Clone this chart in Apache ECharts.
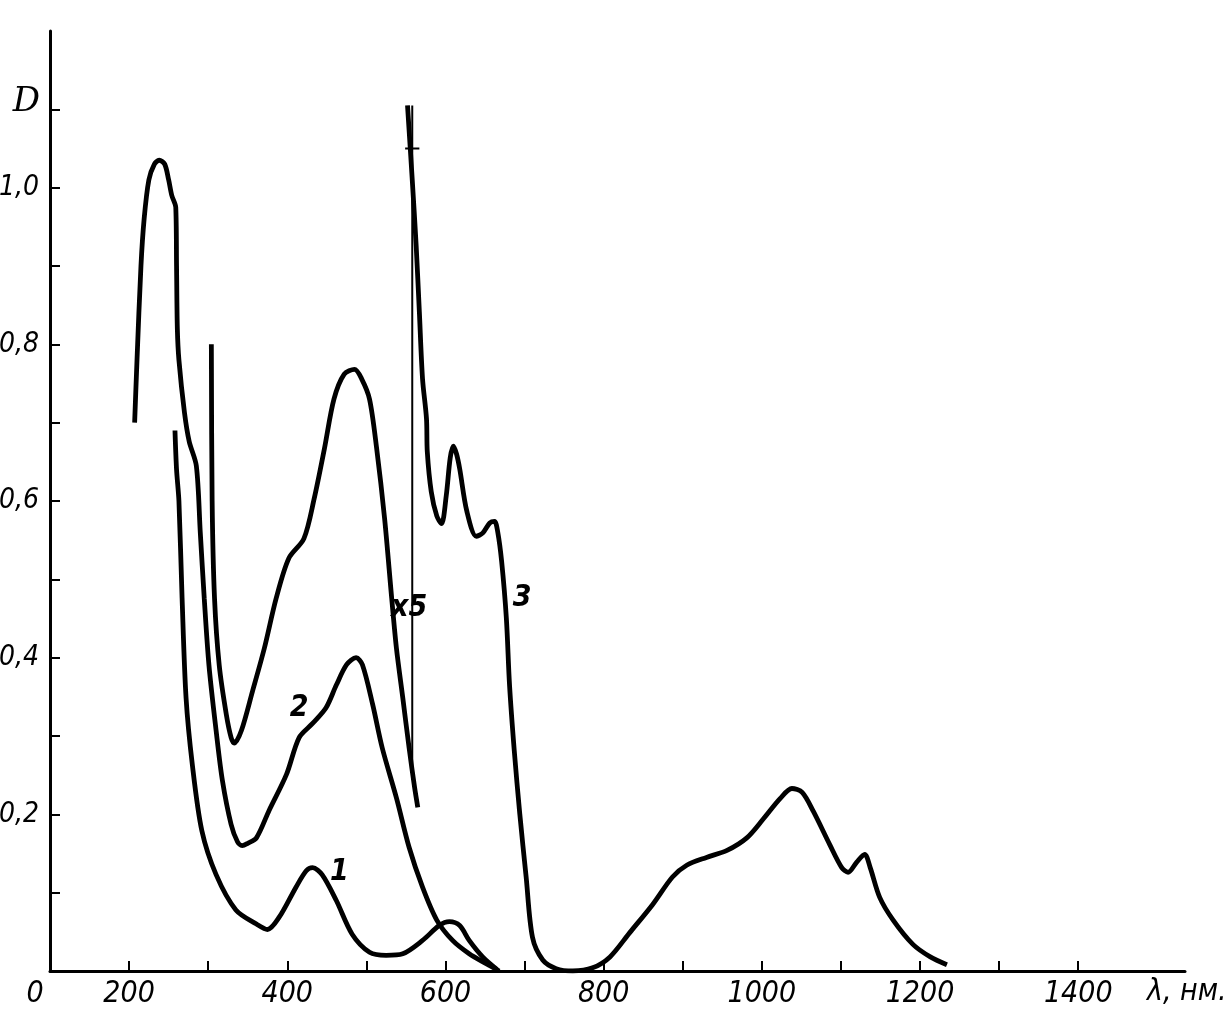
<!DOCTYPE html>
<html>
<head>
<meta charset="utf-8">
<script src="https://cdn.jsdelivr.net/npm/echarts@6/dist/echarts.min.js"></script>
<style>
html,body{margin:0;padding:0;background:#fff;}
#chart{width:1228px;height:1024px;}
</style>
</head>
<body>
<div id="chart"></div>
<script>
// wavelength (nm), optical density D
const curve1 = [[258,0.69],[260,0.64],[263,0.60],[267,0.476],[272,0.349],[280,0.263],[292,0.179],[310,0.123],[335,0.078],[361,0.060],[375,0.053],[390,0.069],[411,0.107],[424,0.128],[432,0.132],[444,0.123],[462,0.090],[482,0.047],[504,0.024],[525,0.020],[546,0.022],[571,0.039],[592,0.058],[605,0.063],[618,0.058],[630,0.039],[647,0.018],[665,0.002]];
const curve2 = [[207,0.70],[210,0.78],[215,0.90],[219,0.96],[225,1.01],[232,1.03],[238,1.035],[245,1.03],[250,1.01],[254,0.99],[259,0.975],[260,0.90],[261,0.82],[263,0.78],[270,0.713],[276,0.676],[285,0.645],[290,0.56],[295,0.476],[301,0.39],[310,0.307],[318,0.243],[329,0.187],[337,0.165],[343,0.160],[350,0.163],[361,0.170],[377,0.205],[399,0.251],[415,0.298],[432,0.316],[449,0.336],[462,0.365],[475,0.391],[487,0.40],[495,0.391],[508,0.34],[520,0.285],[538,0.221],[554,0.158],[571,0.107],[589,0.065],[609,0.039],[630,0.022],[652,0.009],[668,0.0]];
const curve2x5 = [[304,0.80],[305,0.60],[308,0.476],[314,0.39],[323,0.327],[329,0.298],[333,0.291],[342,0.307],[356,0.357],[371,0.412],[386,0.476],[402,0.527],[421,0.552],[434,0.603],[447,0.667],[459,0.730],[472,0.762],[485,0.768],[494,0.756],[504,0.730],[513,0.667],[523,0.578],[532,0.476],[538,0.412],[546,0.349],[554,0.285],[561,0.234],[565,0.209]];
const curve3 = [[552,1.105],[558,1.01],[563,0.925],[567,0.841],[571,0.756],[576,0.705],[577,0.663],[582,0.612],[589,0.581],[595,0.571],[601,0.607],[606,0.655],[610,0.670],[614,0.660],[618,0.641],[627,0.587],[639,0.555],[647,0.559],[656,0.572],[662,0.574],[666,0.561],[671,0.523],[677,0.450],[681,0.365],[687,0.281],[694,0.20],[702,0.12],[710,0.043],[723,0.014],[740,0.003],[761,0.0],[786,0.004],[808,0.018],[833,0.049],[862,0.085],[887,0.12],[905,0.135],[930,0.145],[956,0.154],[981,0.17],[1001,0.193],[1023,0.22],[1038,0.233],[1051,0.228],[1065,0.204],[1086,0.161],[1101,0.132],[1109,0.126],[1120,0.139],[1130,0.149],[1137,0.132],[1149,0.094],[1166,0.065],[1191,0.034],[1213,0.018],[1234,0.008]];
const markerLine = [[558,1.105],[558,0.26]];
const markerBar = [[549,1.05],[567,1.05]];
const annotations = [[466,0.126,'1'],[415,0.336,'2'],[697,0.476,'3'],[554,0.463,'x5']];
const xTicks = [200,300,400,500,600,700,800,900,1000,1100,1200,1300,1400];
const xLabels = [100,200,400,600,800,1000,1200,1400];
const yTicks = [0.1,0.2,0.3,0.4,0.5,0.6,0.7,0.8,0.9,1.0,1.1];
const yLabels = [0.2,0.4,0.6,0.8,1.0];

const FONT = '"Liberation Sans Narrow","DejaVu Sans Condensed","Liberation Sans",sans-serif';
const chart = echarts.init(document.getElementById('chart'));
const curveStyle = {color:'#000', width:4.8};
function curve(data){
  return {type:'line', data:data, showSymbol:false, symbol:'none', smooth:0.3,
    lineStyle:curveStyle, silent:true, z:3};
}
chart.setOption({
  animation:false,
  backgroundColor:'#fff',
  grid:{left:50, right:43, top:31, bottom:53, containLabel:false, outerBoundsMode:'none'},
  xAxis:{
    type:'value', min:100, max:1535,
    splitLine:{show:false},
    axisLine:{lineStyle:{color:'#000', width:3}},
    axisTick:{inside:true, length:10, lineStyle:{color:'#000', width:2}, customValues:xTicks},
    axisLabel:{
      customValues:xLabels,
      margin:8,
      color:'#000', fontSize:30, fontStyle:'italic', fontFamily:FONT,
      formatter:function(v){ return v===100 ? '{o|0}' : String(v); },
      rich:{o:{padding:[0,30,0,0], color:'#000', fontSize:30, fontStyle:'italic', fontFamily:FONT}}
    },
    name:'λ, нм.',
    nameLocation:'end',
    nameGap:-38,
    nameTextStyle:{color:'#000', fontSize:30, fontStyle:'italic', fontFamily:FONT, verticalAlign:'top', padding:[6,0,0,0]}
  },
  yAxis:{
    type:'value', min:0, max:1.2,
    splitLine:{show:false},
    axisLine:{lineStyle:{color:'#000', width:3}},
    axisTick:{inside:true, length:10, lineStyle:{color:'#000', width:2}, customValues:yTicks},
    axisLabel:{
      customValues:yLabels,
      margin:11,
      color:'#000', fontSize:28, fontStyle:'italic', fontFamily:FONT,
      formatter:function(v){ return v.toFixed(1).replace('.',','); }
    },
    name:'D',
    nameLocation:'end',
    nameGap:-88,
    nameTextStyle:{color:'#000', fontSize:34, fontStyle:'italic', fontFamily:'"DejaVu Serif",serif', align:'right', padding:[0,10,0,0]}
  },
  series:[
    curve(curve1),
    curve(curve2),
    curve(curve2x5),
    curve(curve3),
    {type:'line', data:markerLine, symbol:'none', lineStyle:{color:'#000', width:2}, silent:true, z:2},
    {type:'line', data:markerBar, symbol:'none', lineStyle:{color:'#000', width:2}, silent:true, z:2},
    {type:'scatter', symbolSize:0, silent:true, z:4,
      itemStyle:{opacity:1, color:'#000'},
      data:annotations.map(a=>({value:[a[0],a[1]], name:a[2]})),
      label:{show:true, position:'inside', opacity:1, formatter:p=>p.name, color:'#000', fontSize:30, fontStyle:'italic', fontWeight:'bold', fontFamily:FONT}}
  ]
});
</script>
</body>
</html>
